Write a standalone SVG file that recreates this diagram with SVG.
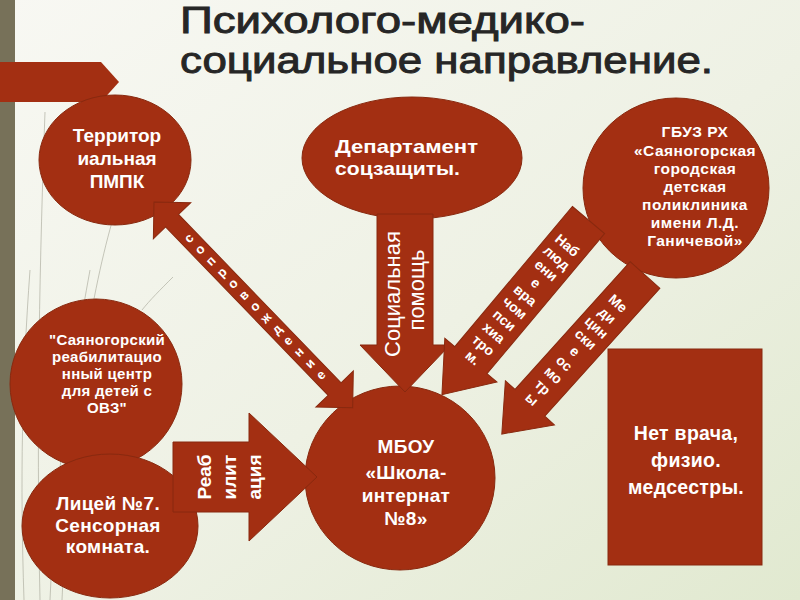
<svg xmlns="http://www.w3.org/2000/svg" width="800" height="600" viewBox="0 0 800 600">
<defs>
<linearGradient id="bg" x1="0" y1="0" x2="1" y2="1">
<stop offset="0" stop-color="#f8f8f3"/>
<stop offset="0.55" stop-color="#eef1e4"/>
<stop offset="1" stop-color="#e1e9d0"/>
</linearGradient>
<style>
.shape{fill:#a32f12;stroke:#88290f;stroke-width:1}
.t{font-family:"Liberation Sans",Arial,sans-serif;font-weight:bold;fill:#ffffff;text-anchor:middle}
.lbl{font-family:"Liberation Sans",Arial,sans-serif;font-weight:bold;fill:#ffffff;text-anchor:middle;dominant-baseline:central}
.title{font-family:"Liberation Sans",Arial,sans-serif;font-size:36px;fill:#262626;stroke:#262626;stroke-width:0.9}
.wisp{fill:none;stroke:#a9a99a;stroke-width:0.8;opacity:0.8}
</style>
</defs>
<rect width="800" height="600" fill="url(#bg)"/>
<rect x="0" y="0" width="15" height="600" fill="#777159"/>
<path class="wisp" d="M45,112 C40,250 36,420 40,600"/>
<path class="wisp" d="M112,222 C90,300 70,420 62,600"/>
<path class="wisp" d="M30,270 C22,380 20,480 24,600"/>
<path class="wisp" d="M90,270 C70,380 55,480 50,600"/>
<path class="wisp" d="M173,277 C160,290 150,300 142,310"/>
<polygon points="0,62 101,62 119,82 101,102 0,102" fill="#a32f12"/>
<text class="title" x="180" y="33" textLength="405" lengthAdjust="spacingAndGlyphs">Психолого-медико-</text>
<text class="title" x="180" y="73" textLength="533" lengthAdjust="spacingAndGlyphs">социальное направление.</text>

<g id="node-pmpk">
<ellipse class="shape" cx="115" cy="160" rx="76" ry="65"/>
<text class="t" font-size="19"><tspan x="117" y="142">Территор</tspan><tspan x="117" y="165">иальная</tspan><tspan x="117" y="188">ПМПК</tspan></text>
</g>
<g id="node-dep">
<ellipse class="shape" cx="412" cy="158" rx="110" ry="61"/>
<text class="t" font-size="19" style="text-anchor:start"><tspan x="335" y="153" textLength="143" lengthAdjust="spacingAndGlyphs">Департамент</tspan><tspan x="335" y="175" textLength="125" lengthAdjust="spacingAndGlyphs">соцзащиты.</tspan></text>
</g>
<g id="node-gbuz">
<ellipse class="shape" cx="676" cy="188" rx="93" ry="90"/>
<text class="t" font-size="15.5" letter-spacing="0.5"><tspan x="695" y="137">ГБУЗ РХ</tspan><tspan x="695" y="156">«Саяногорская</tspan><tspan x="695" y="174">городская</tspan><tspan x="695" y="192">детская</tspan><tspan x="695" y="210">поликлиника</tspan><tspan x="695" y="228">имени Л.Д.</tspan><tspan x="695" y="246">Ганичевой»</tspan></text>
</g>
<g id="node-rehab">
<ellipse class="shape" cx="96" cy="384" rx="86" ry="85"/>
<text class="t" font-size="15" letter-spacing="0.3"><tspan x="107" y="345">"Саяногорский</tspan><tspan x="107" y="362">реабилитацио</tspan><tspan x="107" y="379">нный центр</tspan><tspan x="107" y="396">для детей с</tspan><tspan x="107" y="413">ОВЗ"</tspan></text>
</g>
<g id="node-lyceum">
<ellipse class="shape" cx="110" cy="526" rx="88" ry="72"/>
<text class="t" font-size="19" letter-spacing="0.3"><tspan x="108" y="510">Лицей №7.</tspan><tspan x="108" y="532">Сенсорная</tspan><tspan x="108" y="553">комната.</tspan></text>
</g>
<g id="node-mbou">
<ellipse class="shape" cx="400" cy="478" rx="95" ry="92"/>
<text class="t" font-size="19" letter-spacing="0.3"><tspan x="406" y="453">МБОУ</tspan><tspan x="406" y="479">«Школа-</tspan><tspan x="406" y="502">интернат</tspan><tspan x="406" y="525">№8»</tspan></text>
</g>
<g id="node-nodoctor">
<rect class="shape" x="608" y="349" width="154" height="216"/>
<text class="t" font-size="19.5" letter-spacing="0.3"><tspan x="686" y="440">Нет врача,</tspan><tspan x="686" y="467">физио.</tspan><tspan x="686" y="494">медсестры.</tspan></text>
</g>

<g id="connectors">
<g id="conn-soprovozhdenie" transform="translate(154,202) rotate(46)">
<polygon class="shape" points="0,0 26,-26 26,-9 260,-9 260,-26 286,0 260,26 260,9 26,9 26,26"/>
<g class="lbl" font-size="13">
<text transform="translate(50,0) rotate(-90)">с</text>
<text transform="translate(65.8,0) rotate(-90)">о</text>
<text transform="translate(81.7,0) rotate(-90)">п</text>
<text transform="translate(97.5,0) rotate(-90)">р</text>
<text transform="translate(113.4,0) rotate(-90)">о</text>
<text transform="translate(129.2,0) rotate(-90)">в</text>
<text transform="translate(145,0) rotate(-90)">о</text>
<text transform="translate(160.9,0) rotate(-90)">ж</text>
<text transform="translate(176.7,0) rotate(-90)">д</text>
<text transform="translate(192.6,0) rotate(-90)">е</text>
<text transform="translate(208.4,0) rotate(-90)">н</text>
<text transform="translate(224.2,0) rotate(-90)">и</text>
<text transform="translate(240,0) rotate(-90)">е</text>
</g>
</g>
<g id="conn-social">
<polygon class="shape" points="377,214 433,214 433,345 450,345 405,392 360,345 377,345"/>
<text class="t" font-size="22" style="font-weight:normal" transform="translate(400,294) rotate(-90)">Социальная</text>
<text class="t" font-size="22" style="font-weight:normal" transform="translate(424,290) rotate(-90)">помощь</text>
</g>
<g id="conn-nabl" transform="translate(588.5,220) rotate(40)">
<polygon class="shape" points="-21,0 21,0 21,183 34,183 0,228 -34,183 -21,183"/>
<g class="lbl" font-size="14">
<text x="0" y="33">Наб</text>
<text x="0" y="49.3">люд</text>
<text x="0" y="65.6">ени</text>
<text x="0" y="81.9">е</text>
<text x="0" y="98.2">вра</text>
<text x="0" y="114.5">чом</text>
<text x="0" y="130.8">пси</text>
<text x="0" y="147.1">хиа</text>
<text x="0" y="163.4">тро</text>
<text x="0" y="179.7">м.</text>
</g>
</g>
<g id="conn-med" transform="translate(645,275) rotate(42)">
<polygon class="shape" points="-20,0 20,0 20,172 33,172 0,214 -33,172 -20,172"/>
<g class="lbl" font-size="14">
<text x="-1" y="39">Ме</text>
<text x="-1" y="55.1">ди</text>
<text x="-1" y="71.2">цин</text>
<text x="-1" y="87.3">ски</text>
<text x="-1" y="103.4">е</text>
<text x="-1" y="119.5">ос</text>
<text x="-1" y="135.6">мо</text>
<text x="-1" y="151.7">тр</text>
<text x="-1" y="167.8">ы</text>
</g>
</g>
<g id="conn-reab">
<polygon class="shape" points="173,442 249,442 249,413 317,477 249,541 249,512 173,512"/>
<g class="t" font-size="19">
<text transform="translate(211,477) rotate(-90)">Реаб</text>
<text transform="translate(236,477) rotate(-90)">илит</text>
<text transform="translate(261,477) rotate(-90)">ация</text>
</g>
</g>
</g>
</svg>
